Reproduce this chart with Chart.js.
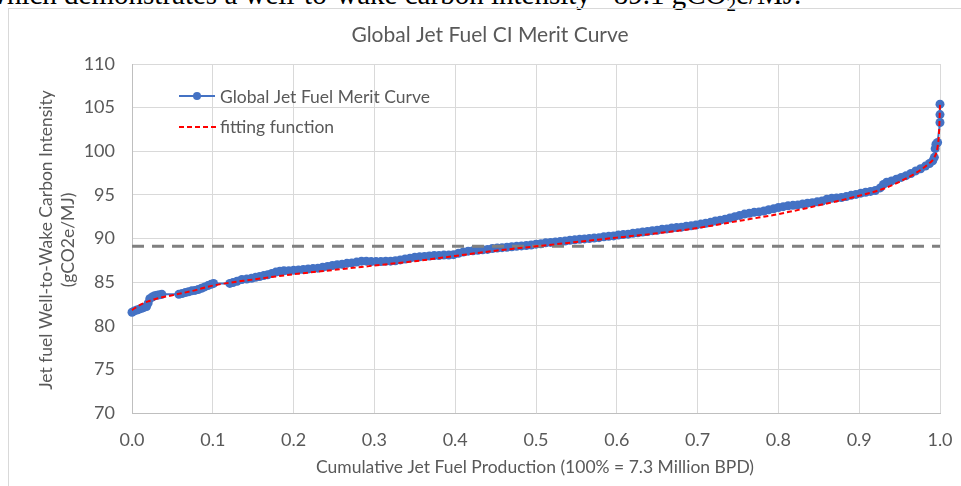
<!DOCTYPE html>
<html>
<head>
<meta charset="utf-8">
<script src="https://cdn.jsdelivr.net/npm/chart.js@4.4.1/dist/chart.umd.min.js"></script>
<style>
  html, body { margin: 0; padding: 0; background: #fff; }
  body { width: 961px; height: 486px; position: relative; overflow: hidden; }
  #frame { position: absolute; left: 8px; top: 8px; width: 970px; height: 500px; border: 1px solid #d9d9d9; box-sizing: border-box; }
  #doc { position: absolute; left: -14px; top: -22px; font-family: "Liberation Serif", "DejaVu Serif", serif; font-size: 29px; line-height: 33px; color: #000; white-space: nowrap; }
  #wrap { position: absolute; left: 0; top: 0; width: 961px; height: 486px; }
</style>
</head>
<body>
<div id="doc">which demonstrates a well-to-wake carbon intensity ~89.1 gCO<sub style="font-size:19px">2</sub>e/MJ.</div>
<div id="frame"></div>
<div id="wrap"><canvas id="c" width="961" height="486"></canvas></div>
<script>
// ---- Data ----
const chartTitle = "Global Jet Fuel CI Merit Curve";
const xAxisTitle = "Cumulative Jet Fuel Production (100% = 7.3 Million BPD)";
const yAxisTitleLines = ["Jet fuel Well-to-Wake Carbon Intensity", "(gCO2e/MJ)"];
const seriesNames = ["Global Jet Fuel Merit Curve", "fitting function"];

// Global Jet Fuel Merit Curve: cumulative share (x) and CI (y)
const meritX = [
  0.000,0.003,0.006,0.009,0.012,0.015,0.018,0.020,0.022,0.025,0.028,0.031,0.034,0.037,
  0.058,0.062,0.066,0.070,0.074,0.078,0.082,0.086,0.090,0.094,0.098,0.101,
  0.121,0.125,0.130,0.136,0.142,0.148,0.153,0.158,0.163,0.168,0.173,0.178,0.183,0.188,0.194,
  0.200,0.206,0.212,0.218,0.224,0.230,0.236,0.242,0.248,0.254,0.260,0.266,0.272,0.278,0.284,0.290,0.296,
  0.302,0.308,0.314,0.320,0.326,0.332,0.338,0.344,0.350,0.356,0.362,0.368,0.374,0.380,0.386,0.392,0.398,
  0.404,0.410,0.416,0.422,0.428,0.434,0.440,0.446,0.452,0.458,0.464,0.470,0.476,0.482,0.488,0.494,
  0.500,0.506,0.512,0.518,0.524,0.530,0.536,0.542,0.548,0.554,0.560,0.566,0.572,0.578,0.584,0.590,0.596,
  0.602,0.608,0.614,0.620,0.626,0.632,0.638,0.644,0.650,0.656,0.662,0.668,0.674,0.680,0.686,0.692,0.698,
  0.704,0.710,0.716,0.722,0.728,0.734,0.740,0.746,0.752,0.758,0.764,0.770,0.776,0.782,0.788,0.794,
  0.800,0.806,0.812,0.818,0.824,0.830,0.836,0.842,0.848,0.854,0.860,0.866,0.872,0.878,0.884,0.890,0.896,
  0.902,0.908,0.914,0.920,0.926,0.930,0.934,0.940,0.946,0.952,0.958,0.964,0.970,0.976,0.982,0.987,0.991,
  0.993,0.994,0.995,0.997,1.000,1.000,1.000
];
const meritY = [
  81.55,81.7,81.8,81.9,82.0,82.1,82.2,82.6,83.1,83.3,83.45,83.5,83.55,83.6,
  83.6,83.7,83.8,83.9,84.0,84.05,84.15,84.3,84.45,84.6,84.75,84.85,
  84.85,84.95,85.1,85.3,85.35,85.45,85.55,85.65,85.75,85.85,86.0,86.15,86.25,86.3,86.3,
  86.35,86.4,86.45,86.5,86.55,86.6,86.7,86.8,86.9,87.0,87.05,87.15,87.2,87.3,87.4,87.4,87.35,
  87.35,87.35,87.4,87.4,87.45,87.55,87.65,87.75,87.85,87.9,87.95,88.0,88.05,88.05,88.1,88.1,88.15,
  88.3,88.45,88.55,88.6,88.65,88.7,88.75,88.85,88.9,88.95,89.0,89.05,89.1,89.15,89.2,89.25,
  89.35,89.4,89.5,89.55,89.6,89.65,89.7,89.8,89.85,89.9,89.95,90.0,90.05,90.1,90.2,90.25,90.3,
  90.4,90.45,90.5,90.6,90.65,90.75,90.8,90.9,90.95,91.05,91.1,91.2,91.25,91.3,91.4,91.45,91.55,
  91.65,91.75,91.85,92.0,92.1,92.2,92.35,92.5,92.65,92.8,92.9,93.0,93.05,93.15,93.3,93.4,
  93.55,93.65,93.75,93.8,93.85,93.95,94.05,94.1,94.2,94.3,94.5,94.6,94.65,94.7,94.8,94.95,95.05,
  95.2,95.3,95.4,95.5,95.8,96.2,96.45,96.6,96.8,97.0,97.2,97.45,97.75,98.0,98.3,98.6,98.9,
  99.3,100.3,100.8,101.0,103.3,104.2,105.4
];

// fitting function (red dashed)
const fitX = [0,0.01,0.02,0.03,0.05,0.075,0.1,0.15,0.2,0.25,0.3,0.35,0.4,0.45,0.5,0.55,0.6,0.65,0.7,0.75,0.8,0.85,0.9,0.93,0.95,0.97,0.985,0.993,0.997,0.999,1.0];
const fitY = [81.8,82.4,82.8,83.1,83.5,84.0,84.6,85.3,85.9,86.4,86.9,87.4,88.0,88.6,89.1,89.6,90.1,90.6,91.2,92.0,92.8,93.8,94.9,95.7,96.5,97.5,98.5,99.3,100.5,102.5,105.4];

// average CI reference line
const avgCI = 89.1;

// axis ticks
const xTickMin = 0, xTickMax = 1, xTickStep = 0.1;
const yTickMin = 70, yTickMax = 110, yTickStep = 5;

// ---- Chart ----
const FONT = "Lato, 'Open Sans', sans-serif";
const TXT = "#595959";

const toPts = (xs, ys) => xs.map((x, i) => ({ x: x, y: ys[i] }));

const overlay = {
  id: 'overlay',
  afterDraw(chart) {
    const ctx = chart.ctx;
    ctx.save();
    ctx.fillStyle = TXT;
    // title
    ctx.font = "21px " + FONT;
    ctx.textAlign = "center";
    ctx.textBaseline = "middle";
    ctx.fillText(chartTitle, 490, 35);
    // x axis title
    ctx.font = "17.5px " + FONT;
    ctx.fillText(xAxisTitle, 535, 467);
    // y axis title
    ctx.save();
    ctx.font = "17.5px " + FONT;
    ctx.translate(46, 240);
    ctx.rotate(-Math.PI / 2);
    ctx.fillText(yAxisTitleLines[0], 0, 0);
    ctx.fillText(yAxisTitleLines[1], 0, 22);
    ctx.restore();
    // legend
    ctx.textAlign = "left";
    ctx.font = "17.5px " + FONT;
    ctx.strokeStyle = "#4472C4";
    ctx.lineWidth = 2;
    ctx.beginPath(); ctx.moveTo(179, 96); ctx.lineTo(215, 96); ctx.stroke();
    ctx.fillStyle = "#4472C4";
    ctx.beginPath(); ctx.arc(197, 96, 4, 0, Math.PI * 2); ctx.fill();
    ctx.strokeStyle = "#FF0000";
    ctx.setLineDash([5, 3]);
    ctx.beginPath(); ctx.moveTo(179, 127); ctx.lineTo(216, 127); ctx.stroke();
    ctx.setLineDash([]);
    ctx.fillStyle = TXT;
    ctx.fillText(seriesNames[0], 220, 97);
    ctx.fillText(seriesNames[1], 220, 127);
    ctx.restore();
  }
};

new Chart(document.getElementById('c'), {
  type: 'scatter',
  data: {
    datasets: [
      {
        label: seriesNames[0],
        data: toPts(meritX, meritY),
        showLine: true,
        borderColor: '#4472C4',
        backgroundColor: '#4472C4',
        borderWidth: 2,
        pointRadius: 4.5,
        pointBorderWidth: 0,
        pointBackgroundColor: '#4472C4',
        clip: false,
        order: 3
      },
      {
        label: 'average',
        data: [{ x: xTickMin, y: avgCI }, { x: xTickMax, y: avgCI }],
        showLine: true,
        borderColor: '#808080',
        borderWidth: 3,
        borderDash: [12, 8],
        pointRadius: 0,
        order: 2
      },
      {
        label: seriesNames[1],
        data: toPts(fitX, fitY),
        showLine: true,
        borderColor: '#FF0000',
        borderWidth: 2,
        borderDash: [5, 3],
        pointRadius: 0,
        cubicInterpolationMode: 'monotone',
        clip: false,
        order: 1
      }
    ]
  },
  options: {
    responsive: false,
    animation: false,
    events: [],
    layout: { padding: { top: 64, left: 0, right: 21, bottom: 25 } },
    plugins: { legend: { display: false }, title: { display: false }, tooltip: { enabled: false } },
    scales: {
      x: {
        type: 'linear',
        min: xTickMin, max: xTickMax,
        afterFit(s) { s.height = 48; s.paddingLeft = 0; s.paddingRight = 0; },
        ticks: { stepSize: xTickStep, color: TXT, font: { family: FONT, size: 18 }, padding: 16,
                 callback: v => Number(v).toFixed(1) },
        grid: { color: '#d9d9d9', lineWidth: 1, drawTicks: false },
        border: { color: '#bfbfbf', width: 1 }
      },
      y: {
        min: yTickMin, max: yTickMax,
        afterFit(s) { s.width = 132; s.paddingTop = 0; s.paddingBottom = 0; },
        ticks: { stepSize: yTickStep, color: TXT, font: { family: FONT, size: 18 }, padding: 17 },
        grid: { color: '#d9d9d9', lineWidth: 1, drawTicks: false },
        border: { color: '#bfbfbf', width: 1 }
      }
    }
  },
  plugins: [overlay]
});
</script>
</body>
</html>
